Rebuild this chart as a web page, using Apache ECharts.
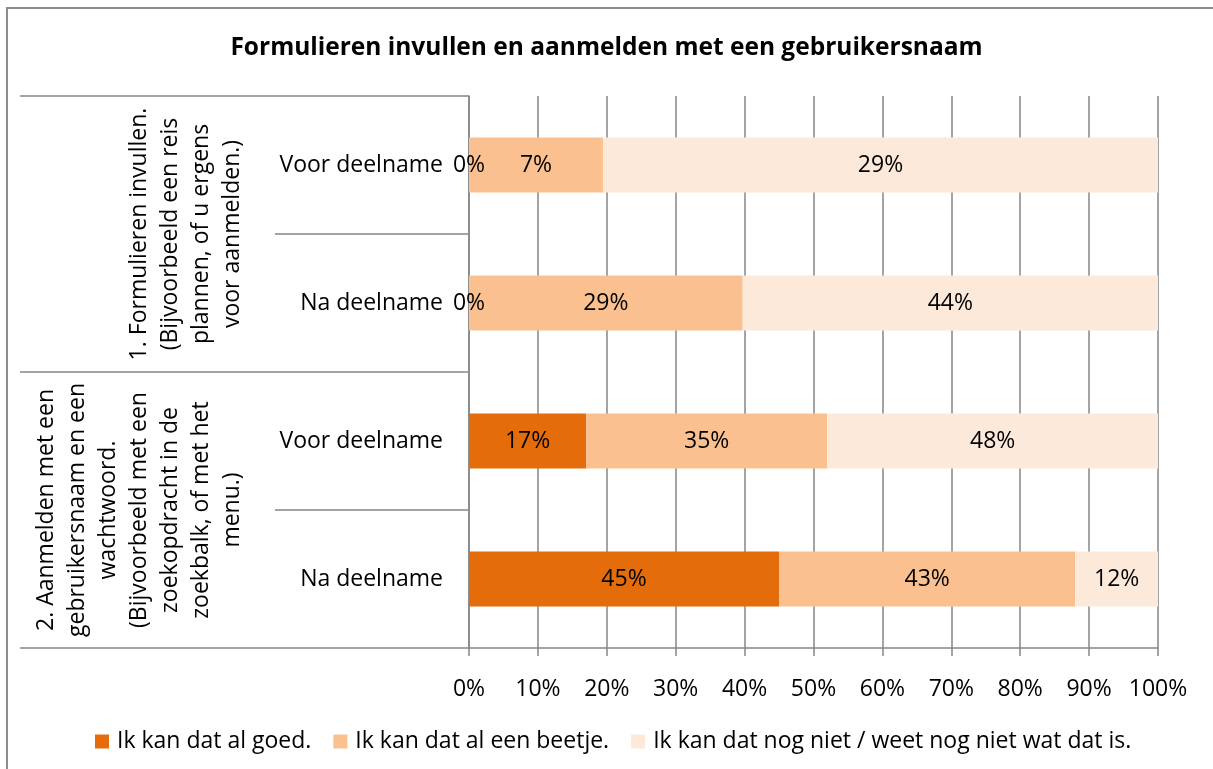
<!DOCTYPE html>
<html>
<head>
<meta charset="utf-8">
<title>Formulieren invullen en aanmelden</title>
<script src="https://cdn.jsdelivr.net/npm/echarts@6/dist/echarts.min.js"></script>
<style>
  html, body {
    margin: 0;
    padding: 0;
    background: #fff;
  }
  #main {
    width: 1213px;
    height: 769px;
  }
</style>
</head>
<body>
<div id="main"></div>
<script>
// categorieen (van boven naar beneden)
var rowLabels = ['Voor deelname', 'Na deelname', 'Voor deelname', 'Na deelname']
var groupLabels = [
  '1. Formulieren invullen.\n(Bijvoorbeeld een reis\nplannen, of u ergens\nvoor aanmelden.)',
  '2. Aanmelden met een\ngebruikersnaam en een\nwachtwoord.\n(Bijvoorbeeld met een\nzoekopdracht in de\nzoekbalk, of met het\nmenu.)'
]
var seriesNames = [
  'Ik kan dat al goed.',
  'Ik kan dat al een beetje.',
  'Ik kan dat nog niet / weet nog niet wat dat is.'
]
// percentages zoals in de labels
var goed = [0, 0, 17, 45]
var beetje = [7, 29, 35, 43]
var nogNiet = [29, 44, 48, 12]
var xTicks = [0, 10, 20, 30, 40, 50, 60, 70, 80, 90, 100]

var colors = ['#E46C0A', '#FAC090', '#FDE9D9']
var font = 'Open Sans'
var lineColor = '#868686'

var raw = [goed, beetje, nogNiet]
// 100% gestapeld: elke rij wordt naar zijn eigen totaal geschaald
var totals = rowLabels.map(function (r, i) {
  return goed[i] + beetje[i] + nogNiet[i]
})

var series = raw.map(function (vals, s) {
  return {
    name: seriesNames[s],
    type: 'bar',
    stack: 'total',
    barWidth: '40%',
    itemStyle: { color: colors[s] },
    label: {
      show: true,
      position: 'inside',
      color: '#000',
      fontFamily: font,
      fontSize: 23,
      formatter: function (p) {
        return vals[p.dataIndex] + '%'
      }
    },
    emphasis: { disabled: true },
    data: vals.map(function (v, i) {
      return v / totals[i] * 100
    })
  }
})

var myChart = echarts.init(document.getElementById('main'))
myChart.setOption({
  animation: false,
  title: {
    text: 'Formulieren invullen en aanmelden met een gebruikersnaam',
    left: 'center',
    top: 31,
    textStyle: {
      fontFamily: font,
      fontSize: 24.5,
      fontWeight: 'bold',
      color: '#000'
    }
  },
  legend: {
    data: seriesNames,
    left: 90,
    top: 725,
    icon: 'rect',
    itemWidth: 14,
    itemHeight: 14,
    itemGap: 22,
    textStyle: {
      fontFamily: font,
      fontSize: 23,
      color: '#000',
      padding: [0, 0, 0, 3]
    }
  },
  grid: {
    left: 469,
    right: 55,
    top: 96,
    bottom: 121
  },
  xAxis: {
    type: 'value',
    min: xTicks[0],
    max: xTicks[xTicks.length - 1],
    interval: 10,
    axisLine: { show: true, lineStyle: { color: lineColor, width: 1.5 } },
    axisTick: { show: true, length: 8, lineStyle: { color: lineColor, width: 1.5 } },
    splitLine: { show: true, lineStyle: { color: lineColor, width: 1.5 } },
    axisLabel: {
      margin: 30,
      color: '#000',
      fontFamily: font,
      fontSize: 23,
      formatter: '{value}%'
    }
  },
  yAxis: [
    {
      type: 'category',
      inverse: true,
      data: rowLabels,
      axisLine: { show: true, lineStyle: { color: lineColor, width: 1.5 } },
      axisTick: { show: true, length: 194, lineStyle: { color: lineColor, width: 1.5 } },
      axisLabel: {
        margin: 26,
        interval: 0,
        color: '#000',
        fontFamily: font,
        fontSize: 23
      }
    },
    {
      // tweede niveau: de groepen
      type: 'category',
      inverse: true,
      position: 'left',
      offset: 0,
      data: groupLabels,
      axisLine: { show: false },
      axisTick: { show: true, length: 449, lineStyle: { color: lineColor, width: 1.5 } },
      axisLabel: {
        margin: 221,
        interval: 0,
        hideOverlap: false,
        rotate: 90,
        align: 'center',
        verticalAlign: 'bottom',
        lineHeight: 31,
        color: '#000',
        fontFamily: font,
        fontSize: 23
      }
    }
  ],
  graphic: [{
    // rand van het diagram (alleen links en boven zichtbaar)
    type: 'rect',
    silent: true,
    z: -1,
    shape: { x: 7, y: 8, width: 1400, height: 1000 },
    style: { fill: null, stroke: '#8c8c8c', lineWidth: 2 }
  }],
  series: series
})
</script>
</body>
</html>
